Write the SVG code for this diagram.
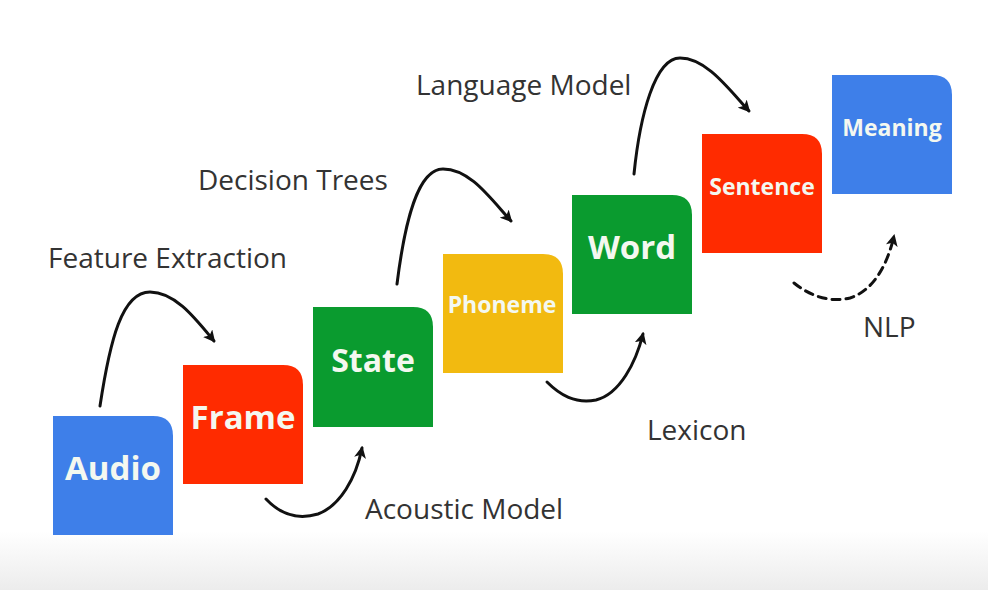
<svg xmlns="http://www.w3.org/2000/svg" width="988" height="590" viewBox="0 0 988 590">
<defs>
<linearGradient id="bg" x1="0" y1="0" x2="0" y2="1">
<stop offset="0" stop-color="#ffffff"/>
<stop offset="0.9" stop-color="#ffffff"/>
<stop offset="1" stop-color="#ececec"/>
</linearGradient>
<marker id="ah" viewBox="0 0 12 12" refX="10" refY="6" markerWidth="12" markerHeight="12" markerUnits="userSpaceOnUse" orient="auto">
<path d="M0,0 L12,6 L0,12 L3,6 Z" fill="#111"/>
</marker>
<style>
.box{stroke:none}
.blue{fill:#3E7FE9}
.red{fill:#FF2B00}
.green{fill:#0A9B2F}
.yellow{fill:#F2BA10}
.bt{font-family:"Open Sans","Noto Sans",sans-serif;font-weight:700;fill:#F4F8F0;text-anchor:middle}
.lb{font-family:"Open Sans","Noto Sans",sans-serif;font-size:28px;fill:#333}
.ar{fill:none;stroke:#111;stroke-width:3;stroke-linecap:round}
</style>
</defs>
<rect width="988" height="590" fill="url(#bg)"/>
<g id="audio"><path class="box blue" d="M53,416 H153 Q173,416 173,436 V535 H53 Z"/><text class="bt" x="113" y="480" font-size="33">Audio</text></g>
<g id="frame"><path class="box red" d="M183,365 H283 Q303,365 303,385 V484 H183 Z"/><text class="bt" x="243" y="429" font-size="33">Frame</text></g>
<g id="state"><path class="box green" d="M313,307 H413 Q433,307 433,327 V427 H313 Z"/><text class="bt" x="373" y="372" font-size="32">State</text></g>
<g id="phoneme"><path class="box yellow" d="M443,254 H543 Q563,254 563,274 V373 H443 Z"/><text class="bt" x="502" y="313" font-size="23">Phoneme</text></g>
<g id="word"><path class="box green" d="M572,195 H672 Q692,195 692,215 V314 H572 Z"/><text class="bt" x="632" y="259" font-size="33">Word</text></g>
<g id="sentence"><path class="box red" d="M702,134 H802 Q822,134 822,154 V253 H702 Z"/><text class="bt" x="762" y="195" font-size="23">Sentence</text></g>
<g id="meaning"><path class="box blue" d="M832,75 H932 Q952,75 952,95 V194 H832 Z"/><text class="bt" x="892" y="136" font-size="23">Meaning</text></g>
<g id="labels">
<text class="lb" x="48" y="268">Feature Extraction</text>
<text class="lb" x="198" y="190">Decision Trees</text>
<text class="lb" x="416" y="95">Language Model</text>
<text class="lb" x="365" y="519">Acoustic Model</text>
<text class="lb" x="647" y="440">Lexicon</text>
<text class="lb" x="863" y="337">NLP</text>
</g>
<g id="connectors">
<path class="ar" marker-end="url(#ah)" d="M100,406 C110,340 122,292 150,292 C175,292 195,318 214,341"/>
<path class="ar" marker-end="url(#ah)" d="M266,499 C280,514 298,520 318,514 C340,506 356,478 362,448"/>
<path class="ar" marker-end="url(#ah)" d="M397,284 C405,220 418,169 443,169 C470,169 490,198 511,221"/>
<path class="ar" marker-end="url(#ah)" d="M547,382 C560,395 575,404 596,400 C620,394 636,362 643,334"/>
<path class="ar" marker-end="url(#ah)" d="M634,174 C640,115 655,58 680,58 C706,58 728,88 749,111"/>
<path class="ar" marker-end="url(#ah)" stroke-dasharray="8,6" d="M794,283 C810,296 830,303 850,298 C875,290 888,262 894,236"/>
</g>
</svg>
